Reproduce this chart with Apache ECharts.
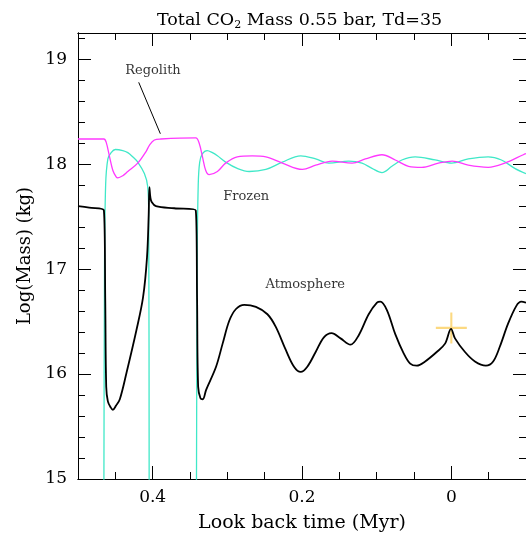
<!DOCTYPE html>
<html lang="en">
<head>
    <meta charset="UTF-8">
    <title>Total CO2 Mass</title>
    <script src="https://cdn.jsdelivr.net/npm/echarts@6/dist/echarts.min.js"></script>
</head>
<style>
    *{
        margin: 0;
        padding: 0;
    }
    html , body{
        overflow: hidden;
        background: #fff;
    }
    .contain{
        width: 526px;
        height: 538px;
    }
</style>
<body>
<div class="contain"></div>
<script>
    // look back time (Myr) and log10 mass (kg) for each reservoir
    let atmTime = [0.5, 0.485, 0.4653, 0.4635, 0.4622, 0.46, 0.456, 0.4533, 0.449, 0.444, 0.4351, 0.4217, 0.4129, 0.4076, 0.4053, 0.4044, 0.403, 0.4013, 0.3956, 0.3711,
        0.3423, 0.3405, 0.3391, 0.336, 0.3329, 0.3284, 0.3151, 0.3063, 0.2973, 0.2884, 0.2773, 0.2617, 0.2463, 0.2351, 0.2217, 0.2107, 0.2017, 0.1929, 0.1817, 0.1707,
        0.1604, 0.1484, 0.1351, 0.124, 0.1107, 0.0996, 0.0951, 0.0863, 0.0751, 0.064, 0.0551, 0.0463, 0.0351, 0.0196, 0.0084, 0.0004, -0.0049, -0.0183, -0.0316, -0.0463,
        -0.056, -0.0649, -0.076, -0.0871, -0.0937, -0.1];
    let atmLog = [17.60, 17.585, 17.56, 16.7, 15.88, 15.74, 15.68, 15.66, 15.70, 15.76, 16.01, 16.42, 16.73, 17.11, 17.52, 17.78, 17.68, 17.64, 17.60, 17.58,
        17.56, 16.7, 15.88, 15.77, 15.76, 15.85, 16.07, 16.29, 16.51, 16.62, 16.66, 16.64, 16.57, 16.45, 16.23, 16.07, 16.02, 16.07, 16.21, 16.35,
        16.39, 16.34, 16.28, 16.37, 16.57, 16.68, 16.69, 16.61, 16.38, 16.20, 16.10, 16.08, 16.12, 16.21, 16.29, 16.43, 16.34, 16.21, 16.12, 16.08,
        16.12, 16.26, 16.48, 16.65, 16.69, 16.68];

    let frozenTime = [0.5, 0.466, 0.4653, 0.4645, 0.463, 0.46, 0.4556, 0.45, 0.44, 0.4333, 0.4267, 0.42, 0.4111, 0.4067, 0.4053, 0.4047, 0.4044,
        0.3425, 0.3413, 0.3405, 0.339, 0.337, 0.3333, 0.327, 0.32, 0.3133, 0.3023, 0.2867, 0.2707, 0.2484, 0.2263, 0.2017, 0.1817, 0.164, 0.1373,
        0.1196, 0.1063, 0.0929, 0.0796, 0.0663, 0.0484, 0.0217, -0.0004, -0.0227, -0.0493, -0.0671, -0.0849, -0.1];
    let frozenLog = [14, 14, 15.0, 17.0, 17.8, 18.05, 18.11, 18.14, 18.13, 18.11, 18.07, 18.02, 17.91, 17.79, 17.5, 15.0, 14,
        14, 15.0, 17.0, 17.8, 18.02, 18.10, 18.13, 18.11, 18.08, 18.02, 17.96, 17.93, 17.95, 18.02, 18.08, 18.05, 18.01, 18.03,
        18.01, 17.96, 17.92, 17.98, 18.04, 18.07, 18.04, 18.01, 18.05, 18.07, 18.04, 17.96, 17.91];

    let regTime = [0.5, 0.4653, 0.4623, 0.4577, 0.4533, 0.4489, 0.4467, 0.44, 0.4333, 0.42, 0.4089, 0.4044, 0.3977, 0.3889,
        0.3423, 0.3377, 0.3333, 0.3289, 0.3244, 0.3133, 0.3023, 0.2867, 0.2667, 0.2484, 0.2263, 0.1996, 0.1817, 0.1596, 0.1329,
        0.1151, 0.0929, 0.0751, 0.0573, 0.0396, 0.0173, -0.0013, -0.0227, -0.0493, -0.0716, -0.0964, -0.1];
    let regLog = [18.24, 18.24, 18.21, 18.07, 17.94, 17.88, 17.87, 17.89, 17.93, 18.01, 18.12, 18.18, 18.23, 18.24,
        18.25, 18.20, 18.07, 17.94, 17.90, 17.93, 18.01, 18.07, 18.08, 18.07, 18.01, 17.95, 17.99, 18.03, 18.01,
        18.05, 18.09, 18.04, 17.98, 17.97, 18.01, 18.03, 17.99, 17.97, 18.01, 18.09, 18.10];

    // present-day marker
    let nowPoint = [0, 16.44];

    // labels and pointer
    let labelNames = ['Regolith', 'Frozen', 'Atmosphere'];
    let labelTime = [0.3996, 0.2747, 0.1956];
    let labelLog = [18.887, 17.692, 16.848];
    let pointerTime = [0.4187, 0.3897];
    let pointerLog = [18.78, 18.29];

    let xMajorTicks = [0, 0.2, 0.4];
    let yMajorTicks = [15, 16, 17, 18, 19];

    let zip = (a, b) => a.map((v, i) => [v, b[i]]);

    let font = 'DejaVu Serif';
    let chart = echarts.init(document.querySelector('.contain'), null, {renderer: 'canvas'});

    let xBase = {
        type: 'value', min: -0.1, max: 0.5, inverse: true,
        axisLine: {show: true, onZero: false, lineStyle: {color: '#000', width: 1}},
        splitLine: {show: false},
        axisLabel: {show: false}
    };
    let yBase = {
        type: 'value', min: 15, max: 19.25,
        axisLine: {show: true, onZero: false, lineStyle: {color: '#000', width: 1}},
        splitLine: {show: false},
        axisLabel: {show: false}
    };
    let major = {show: true, inside: true, length: 13, lineStyle: {color: '#000', width: 1}};
    let minor = {show: true, inside: true, length: 7, lineStyle: {color: '#000', width: 1}};

    let option = {
        backgroundColor: '#fff',
        animation: false,
        title: {
            left: 152,
            top: 5,
            text: '{a|Total CO}{s|2}{a| Mass 0.55 bar, Td=35}',
            textStyle: {
                fontWeight: 'normal',
                rich: {
                    a: {fontFamily: font, fontSize: 17.5, fontWeight: 'normal', color: '#000'},
                    s: {fontFamily: font, fontSize: 11, fontWeight: 'normal', color: '#000', padding: [10, 0, 0, 0]}
                }
            }
        },
        grid: {left: 78, top: 33, width: 450, height: 450},
        xAxis: [
            Object.assign({}, xBase, {
                position: 'bottom',
                axisTick: Object.assign({customValues: xMajorTicks}, major),
                axisLabel: {
                    show: true, customValues: xMajorTicks, margin: 10,
                    fontFamily: font, fontSize: 17, color: '#000',
                    formatter: v => String(Math.round(v * 10) / 10)
                },
                name: 'Look back time (Myr)',
                nameLocation: 'middle',
                nameGap: 35,
                nameTextStyle: {fontFamily: font, fontSize: 19, color: '#000'}
            }),
            Object.assign({}, xBase, {position: 'bottom', interval: 0.05, axisTick: minor}),
            Object.assign({}, xBase, {position: 'top', axisTick: Object.assign({customValues: xMajorTicks}, major)}),
            Object.assign({}, xBase, {position: 'top', interval: 0.05, axisTick: minor})
        ],
        yAxis: [
            Object.assign({}, yBase, {
                position: 'left',
                axisTick: Object.assign({customValues: yMajorTicks}, major),
                axisLabel: {
                    show: true, customValues: yMajorTicks, margin: 11,
                    fontFamily: font, fontSize: 17, color: '#000'
                },
                name: 'Log(Mass) (kg)',
                nameLocation: 'middle',
                nameGap: 44,
                nameTextStyle: {fontFamily: font, fontSize: 18, color: '#000'}
            }),
            Object.assign({}, yBase, {position: 'left', interval: 0.2, axisTick: minor}),
            Object.assign({}, yBase, {position: 'right', axisTick: Object.assign({customValues: yMajorTicks}, major)}),
            Object.assign({}, yBase, {position: 'right', interval: 0.2, axisTick: minor})
        ],
        series: [
            {
                name: 'Frozen', type: 'line', data: zip(frozenTime, frozenLog),
                showSymbol: false, smooth: 0.35, clip: true,
                lineStyle: {color: '#40e8c8', width: 1.3}
            },
            {
                name: 'Regolith', type: 'line', data: zip(regTime, regLog),
                showSymbol: false, smooth: 0.35, clip: true,
                lineStyle: {color: '#ff38ff', width: 1.3}
            },
            {
                name: 'Atmosphere', type: 'line', data: zip(atmTime, atmLog),
                showSymbol: false, smooth: 0.35, clip: true,
                lineStyle: {color: '#000', width: 1.8}
            },
            {
                name: 'pointer', type: 'line', data: zip(pointerTime, pointerLog),
                showSymbol: false, lineStyle: {color: '#000', width: 1}
            },
            {
                name: 'now', type: 'scatter', data: [nowPoint],
                symbol: 'path://M-1,-15h2v30h-2z M-15,-1h30v2h-30z', symbolSize: 31,
                itemStyle: {color: 'rgba(250,200,70,0.85)'}
            },
            {
                name: 'labels', type: 'scatter', symbolSize: 0,
                data: labelNames.map((n, i) => ({name: n, value: [labelTime[i], labelLog[i]]})),
                label: {
                    show: true, position: 'inside', formatter: p => p.name,
                    fontFamily: font, fontSize: 13, color: '#000'
                }
            }
        ]
    };

    chart.setOption(option);
</script>
</body>
</html>
